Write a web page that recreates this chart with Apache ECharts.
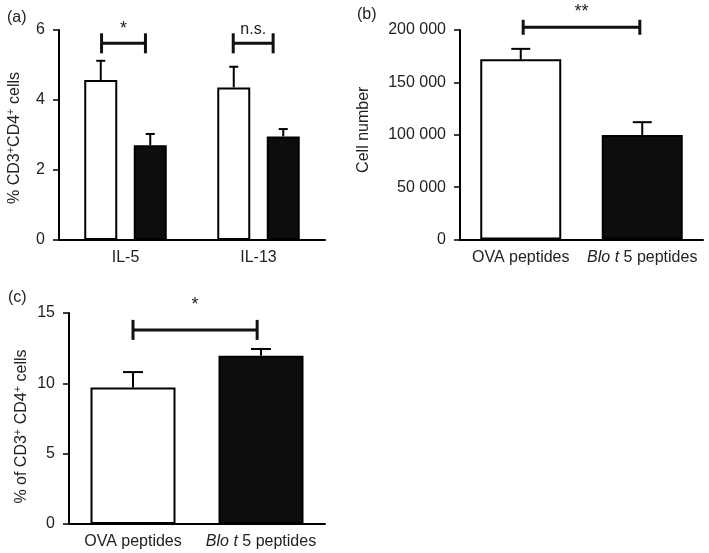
<!DOCTYPE html>
<html>
<head>
<meta charset="utf-8">
<script src="https://cdn.jsdelivr.net/npm/echarts@6/dist/echarts.min.js"></script>
<style>html,body{margin:0;padding:0;background:#fff}#c{width:709px;height:553px}</style>
</head>
<body>
<div id="c"></div>
<script>
// ---- Data ----
const aCategories = ['IL-5', 'IL-13'];
const aOvaMean = [4.57, 4.36];
const aOvaUpper = [5.12, 4.95];
const aBloMean = [2.71, 2.96];
const aBloUpper = [3.03, 3.17];
const aSig = [[-0.18, 0.15, 5.62, '*'], [0.81, 1.11, 5.62, 'n.s.']];
const aTicks = [0, 2, 4, 6];

const bCategories = ['OVA peptides', 'Blo t 5 peptides'];
const bMean = [172000, 99800];
const bUpper = [182000, 112000];
const bSig = [[0.02, 0.98, 202600, '**']];
const bTicks = [0, 50000, 100000, 150000, 200000];

const cCategories = ['OVA peptides', 'Blo t 5 peptides'];
const cMean = [9.71, 11.96];
const cUpper = [10.8, 12.44];
const cSig = [[0.0, 0.97, 13.8, '*']];
const cTicks = [0, 5, 10, 15];

// ---- Styles ----
const FONT = 'Liberation Sans, Arial, sans-serif';
const TXT = '#222';
const FS = 16;

function catLabel(v) {
  if (v.indexOf('Blo t') === 0) return '{i|Blo t}{n| ' + v.slice(6) + '}';
  return '{n|' + v + '}';
}
function spaced(v) {
  return String(v).replace(/\B(?=(\d{3})+(?!\d))/g, ' ');
}
function xAxisCfg(gridIndex, cats) {
  return {
    type: 'category', gridIndex, data: cats,
    axisLine: { lineStyle: { color: '#000', width: 2 } },
    axisTick: { alignWithLabel: true, length: 6, lineStyle: { color: '#000', width: 1.5 } },
    axisLabel: {
      interval: 0, color: TXT, fontFamily: FONT, fontSize: FS, margin: 10,
      formatter: catLabel,
      rich: {
        i: { fontStyle: 'italic', color: TXT, fontFamily: FONT, fontSize: FS },
        n: { color: TXT, fontFamily: FONT, fontSize: FS }
      }
    }
  };
}
function yAxisCfg(gridIndex, ticks, name, nameGap, fmt, rich, pad) {
  return {
    type: 'value', gridIndex,
    min: ticks[0], max: ticks[ticks.length - 1], interval: ticks[1] - ticks[0],
    splitLine: { show: false },
    axisLine: { show: true, lineStyle: { color: '#000', width: 2 } },
    axisTick: { show: true, length: 6, lineStyle: { color: '#000', width: 1.5 } },
    axisLabel: { color: TXT, fontFamily: FONT, fontSize: FS, margin: 14, formatter: fmt },
    name: name, nameLocation: 'middle', nameRotate: 90, nameGap: nameGap,
    nameTextStyle: { color: TXT, fontFamily: FONT, fontSize: FS, rich: rich, padding: pad || 0 }
  };
}
const supRich = {
  n: { color: TXT, fontFamily: FONT, fontSize: FS, lineHeight: 19 },
  s: { color: TXT, fontFamily: FONT, fontSize: 11, verticalAlign: 'top', lineHeight: 19 }
};

function errorRender(capW, offsetPx) {
  return function (params, api) {
    const cat = api.value(0), mean = api.value(1), up = api.value(2), g = api.value(3);
    const p0 = api.coord([cat, mean]);
    const p1 = api.coord([cat, up]);
    const x = p0[0] + (offsetPx ? offsetPx[g] : 0);
    const st = { stroke: '#000', lineWidth: 2 };
    return {
      type: 'group', children: [
        { type: 'line', shape: { x1: x, y1: p0[1], x2: x, y2: p1[1] }, style: st },
        { type: 'line', shape: { x1: x - capW / 2, y1: p1[1], x2: x + capW / 2, y2: p1[1] }, style: st }
      ]
    };
  };
}
function sigRender(halfTick, labelGap) {
  return function (params, api) {
    const a = api.value(0), b = api.value(1), yv = api.value(2);
    const label = api.value(3);
    const base = api.coord([0, yv]);
    const band = api.size([1, 0])[0];
    const x1 = base[0] + a * band, x2 = base[0] + b * band, y = base[1];
    const st = { stroke: '#111', lineWidth: 3 };
    return {
      type: 'group', children: [
        { type: 'line', shape: { x1, y1: y, x2, y2: y }, style: st },
        { type: 'line', shape: { x1, y1: y - halfTick, x2: x1, y2: y + halfTick }, style: st },
        { type: 'line', shape: { x1: x2, y1: y - halfTick, x2, y2: y + halfTick }, style: st },
        { type: 'text', x: (x1 + x2) / 2, y: y - labelGap,
          style: { text: label, fill: TXT, font: (label === 'n.s.' ? FS : 18) + 'px ' + FONT, align: 'center', verticalAlign: 'middle' } }
      ]
    };
  };
}

const BW_A = 33, GAP_A = 16.5;
const aOffsets = [-(BW_A + GAP_A) / 2, (BW_A + GAP_A) / 2];

const chart = echarts.init(document.getElementById('c'), null, { renderer: 'canvas' });
const option = {
  animation: false,
  backgroundColor: '#fff',
  title: [
    { text: '(a)', left: 2, top: 5, textStyle: { color: TXT, fontFamily: FONT, fontSize: FS, fontWeight: 'normal' } },
    { text: '(b)', left: 352, top: 2, textStyle: { color: TXT, fontFamily: FONT, fontSize: FS, fontWeight: 'normal' } },
    { text: '(c)', left: 3, top: 285, textStyle: { color: TXT, fontFamily: FONT, fontSize: FS, fontWeight: 'normal' } }
  ],
  grid: [
    { left: 59, top: 30, width: 266, height: 210 },
    { left: 460, top: 30, width: 243, height: 209.5 },
    { left: 69, top: 313, width: 256, height: 211 }
  ],
  xAxis: [xAxisCfg(0, aCategories), xAxisCfg(1, bCategories), xAxisCfg(2, cCategories)],
  yAxis: [
    yAxisCfg(0, aTicks, '{n|% CD3}{s|+}{n|CD4}{s|+}{n| cells}', 35, null, supRich, [0, 6, 0, 0]),
    yAxisCfg(1, bTicks, 'Cell number', 88, spaced, null, [0, 0, 0, 10]),
    yAxisCfg(2, cTicks, '{n|% of CD3}{s|+}{n| CD4}{s|+}{n| cells}', 38, null, supRich, [0, 16, 0, 0])
  ],
  series: [
    { type: 'bar', xAxisIndex: 0, yAxisIndex: 0, data: aOvaMean, barWidth: BW_A, barGap: (GAP_A / BW_A * 100) + '%',
      itemStyle: { color: '#fff', borderColor: '#000', borderWidth: 2 } },
    { type: 'bar', xAxisIndex: 0, yAxisIndex: 0, data: aBloMean, barWidth: BW_A,
      itemStyle: { color: '#0d0d0d', borderColor: '#000', borderWidth: 2 } },
    { type: 'custom', xAxisIndex: 0, yAxisIndex: 0, z: 3, renderItem: errorRender(9, aOffsets),
      encode: { x: 0, y: [1, 2] },
      data: aCategories.map((c, i) => [i, aOvaMean[i], aOvaUpper[i], 0]).concat(
            aCategories.map((c, i) => [i, aBloMean[i], aBloUpper[i], 1])) },
    { type: 'custom', xAxisIndex: 0, yAxisIndex: 0, z: 3, renderItem: sigRender(10, 14),
      encode: { x: 0, y: 2 }, data: aSig },

    { type: 'bar', xAxisIndex: 1, yAxisIndex: 1, barWidth: 81,
      data: bMean.map((v, i) => ({ value: v, itemStyle: { color: i === 0 ? '#fff' : '#0d0d0d', borderColor: '#000', borderWidth: 2 } })) },
    { type: 'custom', xAxisIndex: 1, yAxisIndex: 1, z: 3, renderItem: errorRender(19, null),
      encode: { x: 0, y: [1, 2] },
      data: bCategories.map((c, i) => [i, bMean[i], bUpper[i], 0]) },
    { type: 'custom', xAxisIndex: 1, yAxisIndex: 1, z: 3, renderItem: sigRender(7.5, 15),
      encode: { x: 0, y: 2 }, data: bSig },

    { type: 'bar', xAxisIndex: 2, yAxisIndex: 2, barWidth: 85,
      data: cMean.map((v, i) => ({ value: v, itemStyle: { color: i === 0 ? '#fff' : '#0d0d0d', borderColor: '#000', borderWidth: 2 } })) },
    { type: 'custom', xAxisIndex: 2, yAxisIndex: 2, z: 3, renderItem: errorRender(20, null),
      encode: { x: 0, y: [1, 2] },
      data: cCategories.map((c, i) => [i, cMean[i], cUpper[i], 0]) },
    { type: 'custom', xAxisIndex: 2, yAxisIndex: 2, z: 3, renderItem: sigRender(10, 25),
      encode: { x: 0, y: 2 }, data: cSig }
  ]
};
chart.setOption(option);
</script>
</body>
</html>
